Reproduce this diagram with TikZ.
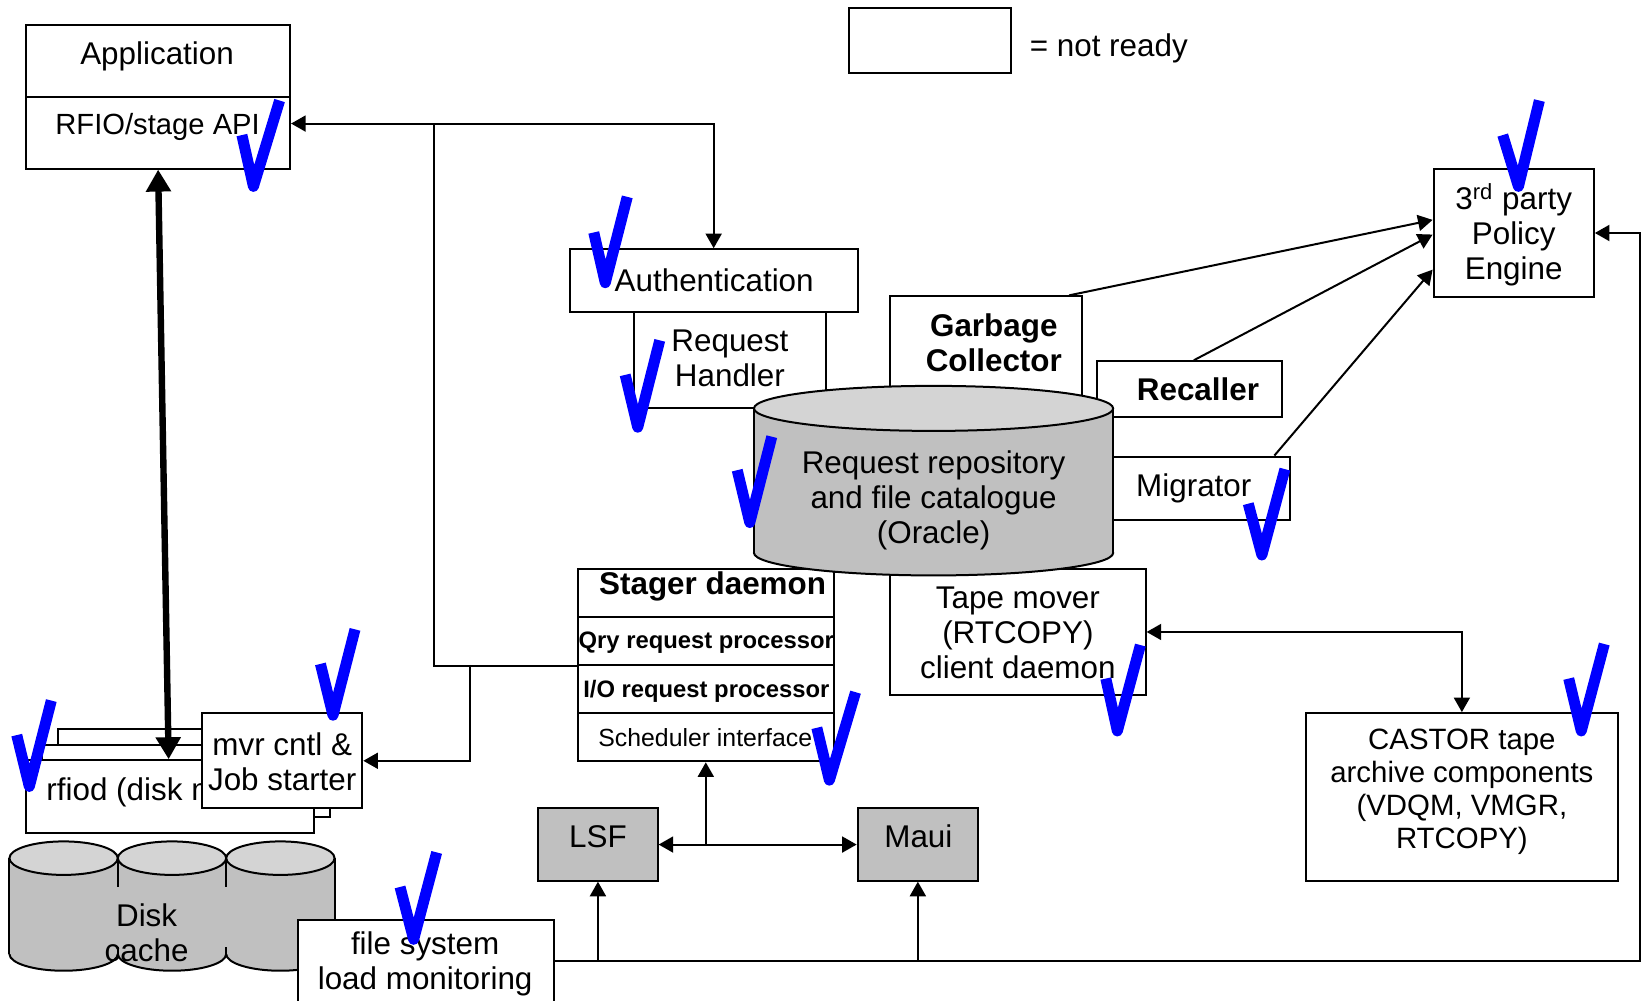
\documentclass[tikz,border=0pt]{standalone}
\usepackage{fontspec}
\setmainfont{Liberation Sans}
\usetikzlibrary{arrows.meta,fit,calc}

\definecolor{dbgray}{RGB}{192,192,192}
\definecolor{dbtop}{RGB}{212,212,212}
\definecolor{okblue}{RGB}{0,0,255}

\begin{document}
\begin{tikzpicture}[
  x=0.5236pt, y=-0.5236pt,
  >={Triangle[length=7.3pt,width=8pt]},
  box/.style={draw, line width=1pt, fill=white, inner sep=0pt},
  shaded/.style={box, fill=dbgray},
  lbl/.style={inner sep=0pt, align=center, font=\fontsize{15.7}{17.5}\selectfont},
  blbl/.style={inner sep=0pt, align=center, font=\fontsize{15.7}{17.5}\selectfont\bfseries},
  apilbl/.style={inner sep=0pt, font=\fontsize{14.6}{17}\selectfont},
  rowlbl/.style={inner sep=0pt, font=\fontsize{11.9}{14}\selectfont\bfseries},
  schedlbl/.style={inner sep=0pt, font=\fontsize{12.4}{14}\selectfont},
  castorlbl/.style={inner sep=0pt, align=center, font=\fontsize{14.7}{16.5}\selectfont},
  link/.style={line width=1pt},
  bulk/.style={line width=3.2pt, >={Triangle[length=11pt,width=12pt]}, <->},
  okmark/.style={draw=okblue, line width=5.5pt, line join=round, line cap=butt},
]

\clip (0,0) rectangle (1568,955);

% legend
\node[box, fit={(811,8) (965,70)}] (legend) {};
\node[lbl, anchor=west] (legendtxt) at (983,46) {= not ready};

% application with its client API
\node[box, fit={(25,24) (277,93)}] (app) {};
\node[box, fit={(25,93) (277,161)}] (api) {};
\node[lbl] (apptxt) at (150,54) {Application};
\node[apilbl] (apitxt) at (150.5,121) {RFIO/stage API};

% request entry chain
\node[box, fit={(605,298) (789,390)}] (rh) {};
\node[lbl] (rhtxt) at (697,342.5) {Request\\Handler};
\node[box, fit={(544,238) (819,298)}] (auth) {};
\node[lbl] (authtxt) at (682,268) {Authentication};

% daemons around the catalogue
\node[box, fit={(850,283) (1033,385)}] (gc) {};
\node[blbl] (gctxt) at (949,327) {Garbage\\Collector};
\node[box, fit={(1048,345) (1224,398)}] (rec) {};
\node[blbl] (rectxt) at (1144,371.5) {Recaller};
\node[box, fit={(1048,436) (1232,497)}] (mig) {};
\node[lbl] (migtxt) at (1140,466) {Migrator};
\node[box, fit={(850,543) (1094,664)}] (tape) {};
\node[lbl] (tapetxt) at (972,604.5) {Tape mover\\(RTCOPY)\\client daemon};

% stager daemon and its parts
\node[box, fit={(552,543) (796,589)}] (stg) {};
\node[box, fit={(552,589) (796,635)}] (qry) {};
\node[box, fit={(552,635) (796,681)}] (io) {};
\node[box, fit={(552,681) (796,727)}] (sched) {};
\node[blbl] (stgtxt) at (680.5,560) {Stager daemon};
\node[rowlbl] (qrytxt) at (674.5,614) {Qry request processor};
\node[rowlbl] (iotxt) at (674.5,660) {I/O request processor};
\node[schedlbl] (schedtxt) at (673.5,704) {Scheduler interface};

% request repository (database cylinder)
\filldraw[fill=dbgray, line width=1pt] (891.5,528) ellipse [x radius=171.5, y radius=21.5];
\fill[dbgray] (720,390) rectangle (1063,528);
\draw[line width=1pt] (720,390) -- (720,528) (1063,390) -- (1063,528);
\filldraw[fill=dbtop, line width=1pt] (891.5,390) ellipse [x radius=171.5, y radius=21.5];
\node[lbl] (dbtxt) at (891.5,477.5) {Request repository\\and file catalogue\\(Oracle)};

% policy engine
\node[box, fit={(1369,161) (1522,284)}] (pol) {};
\node[lbl] (poltxt) at (1445.5,224) {3\textsuperscript{rd} party\\Policy\\Engine};

% tape archive
\node[box, fit={(1247,681) (1545,841)}] (castor) {};
\node[castorlbl] (castortxt) at (1396,756) {CASTOR tape\\archive components\\(VDQM, VMGR,\\RTCOPY)};

% schedulers
\node[shaded, fit={(514,772) (628,841)}] (lsf) {};
\node[lbl] (lsftxt) at (571,799) {LSF};
\node[shaded, fit={(819,772) (934,841)}] (maui) {};
\node[lbl] (mauitxt) at (877,799) {Maui};

% disk movers
\node[box, fit={(55,696) (330,765)}] (rf3) {};
\node[box, fit={(40,711) (315,780)}] (rf2) {};
\node[box, fit={(25,726) (300,795)}] (rf1) {};
\node[lbl, anchor=west] (rftxt) at (44,757) {rfiod (disk mover)};
\node[box, fit={(193,681) (346,772)}] (mvr) {};
\node[lbl] (mvrtxt) at (269.5,727) {mvr cntl \&\\Job starter};

% disk cache cylinders
\foreach \c in {60.75,164.25,267.75} {
  \filldraw[fill=dbgray, line width=1pt] (\c,911) ellipse [x radius=51.75, y radius=16];
  \fill[dbgray] (\c-51.75,819.5) rectangle (\c+51.75,911);
  \draw[line width=1pt] (\c-51.75,819.5) -- (\c-51.75,911) (\c+51.75,819.5) -- (\c+51.75,911);
  \filldraw[fill=dbtop, line width=1pt] (\c,819.5) ellipse [x radius=51.75, y radius=16];
}
\fill[dbgray] (100,847) rectangle (230,904);
\node[lbl] (disktxt) at (140,891) {Disk\\cache};

% file system monitor
\node[box, fit={(285,879) (529,957)}] (fs) {};
\node[lbl] (fstxt) at (406,920.5) {file system\\load monitoring};

% connectors
\coordinate (jA) at (414,118);
\draw[link,<->] (api.east |- jA) -- (auth.north |- jA) -- (auth.north);
\draw[link] (jA) |- (qry.south west);
\coordinate (jB) at (449,635);
\draw[link,->] (jB) |- (mvr.east);
\draw[link,->] (sched.south |- lsf.east) -- (sched.south);
\draw[link,<->] (lsf.east) -- (maui.west);
\coordinate (loopC) at (1566,918);
\draw[link,->] (fs.east) -- (loopC) |- (pol.east);
\draw[link,->] (lsf.south |- fs.east) -- (lsf.south);
\draw[link,->] (maui.south |- fs.east) -- (maui.south);
\draw[link,<->] (tape.east) -| (castor.north);
\draw[link,->] ($(gc.north east)+(-13,0)$) -- ($(pol.west)+(0,-12.5)$);
\draw[link,->] ($(rec.north)+(4,0)$) -- ($(pol.west)+(0,1.5)$);
\draw[link,->] ($(mig.north east)+(-16,0)$) -- ($(pol.west)+(0,35)$);
\draw[bulk] (api.south) -- ($(rf1.north west)+(137,0)$);

% ready marks
\draw[okmark] (231,129) -- (242,178) -- (267,96);
\draw[okmark] (567,222) -- (578,270) -- (599,188);
\draw[okmark] (597,358) -- (609,408) -- (630,325);
\draw[okmark] (704,449) -- (716,499) -- (737,417);
\draw[okmark] (1435,129) -- (1450,178) -- (1470,96);
\draw[okmark] (1192,481) -- (1205,530) -- (1227,448);
\draw[okmark] (306,634) -- (318,683) -- (339,601);
\draw[okmark] (16,702) -- (28,751) -- (49,669);
\draw[okmark] (382,847) -- (395,897) -- (417,814);
\draw[okmark] (780,695) -- (792,745) -- (817,661);
\draw[okmark] (1056,648) -- (1067,698) -- (1089,616);
\draw[okmark] (1498,648) -- (1510,698) -- (1532,615);

\end{tikzpicture}
\end{document}
